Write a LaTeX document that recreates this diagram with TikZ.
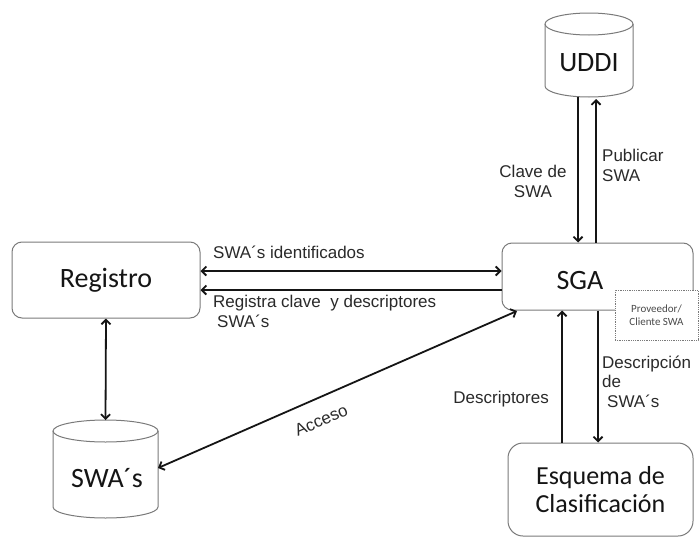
\documentclass[tikz,border=0pt]{standalone}
\usepackage{fontspec}
\setmainfont{Liberation Sans}
\newfontfamily\boxfont{Carlito}
\usetikzlibrary{arrows.meta}
\definecolor{ink}{HTML}{151515}
\definecolor{boxgray}{HTML}{7A7A7A}
\definecolor{labelgray}{HTML}{2A2A2A}
\definecolor{notegray}{HTML}{4A4A4A}
\begin{document}
\begin{tikzpicture}[x=1pt,y=-1pt,
  box/.style={draw=boxgray, line width=1pt, rounded corners=10pt, fill=white},
  title/.style={font=\boxfont\fontsize{28}{30}\selectfont, text=ink},
  lbl/.style={font=\fontsize{17}{19.5}\selectfont, text=labelgray, inner sep=0pt},
  cyl/.style={draw=boxgray, line width=1pt},
  link/.style={line width=1.8pt, draw=ink},
  onehead/.style={-{Straight Barb[length=4.5pt,width=9pt]}},
  twohead/.style={{Straight Barb[length=4.5pt,width=9pt]}-{Straight Barb[length=4.5pt,width=9pt]}}
]
\fill[white] (0,0) rectangle (699,541);
\useasboundingbox (0,0) rectangle (699,541);

% UDDI repository
\draw[cyl] (545,24) -- (545,86) arc[start angle=180, end angle=0, x radius=44, y radius=11] -- (633,24);
\draw[cyl] (589,24) ellipse[x radius=44, y radius=11];
\node[title] (uddi) at (589,63) {UDDI};
\coordinate (uddiL) at (578,96.6);
\coordinate (uddiR) at (596,99);

% SWA's repository
\draw[cyl] (53,431) -- (53,507) arc[start angle=180, end angle=0, x radius=52.5, y radius=11] -- (158,431);
\draw[cyl] (105.5,431) ellipse[x radius=52.5, y radius=11];
\node[title] (swas) at (107,478) {SWA´s};
\coordinate (swastop) at (105.5,420);
\coordinate (swasside) at (158,468);

% Process boxes
\node[box, minimum width=188pt, minimum height=76pt, title] (registro) at (106,280) {Registro};
\node[box, minimum width=191pt, minimum height=67pt] (sga) at (597.5,276.5) {};
\node[title] (sgatext) at (580,281) {SGA};
\node[draw=boxgray, densely dotted, line width=0.8pt, fill=white, minimum width=83pt, minimum height=50pt,
      align=center, font=\boxfont\fontsize{11}{13.5}\selectfont, text=notegray] (prov) at (656.5,315)
      {Proveedor/\\Cliente SWA};
\node[box, rounded corners=15pt, minimum width=185pt, minimum height=93pt, title,
      font=\boxfont\fontsize{26}{28}\selectfont, align=center] (esquema) at (600.5,489.5)
      {Esquema de\\Clasificación};
\coordinate (sgacorner) at (517,311);

% UDDI <-> SGA
\draw[link, onehead] (uddiL) -- (uddiL |- sga.north);
\draw[link, onehead] (uddiR |- sga.north) -- (uddiR);
\node[lbl, align=center, anchor=base] (lclave) at (533,197) {Clave de\\SWA};
\node[lbl, align=left, anchor=base west] (lpub) at (602,181) {Publicar\\SWA};

% Registro <-> SGA
\draw[link, twohead] (registro.east |- 0,271) -- (sga.west |- 0,271);
\draw[link, onehead] (sga.west |- 0,290) -- (registro.east |- 0,290);
\node[lbl, anchor=base west] (lident) at (213,258) {SWA´s identificados};
\node[lbl, align=left, anchor=base west] (lreg) at (213,327) {Registra clave~ y descriptores\\\hspace{4pt}SWA´s};

% Registro <-> SWA's
\draw[link, twohead] (registro.south) -- (swastop);

% SWA's <-> SGA
\draw[link, twohead] (swasside) -- node[lbl, sloped, pos=0.43, below=15pt] (lacc) {Acceso} (sgacorner);

% SGA <-> Esquema
\draw[link, onehead] (esquema.north -| 562,0) -- (sga.south -| 562,0);
\draw[link, onehead] (sga.south -| 598,0) -- (esquema.north -| 598,0);
\node[lbl, anchor=base east] (ldesc) at (549,403) {Descriptores};
\node[lbl, align=left, anchor=base west] (ldescr) at (602,407) {Descripción\\de\\\hspace{5pt}SWA´s};
\end{tikzpicture}
\end{document}
